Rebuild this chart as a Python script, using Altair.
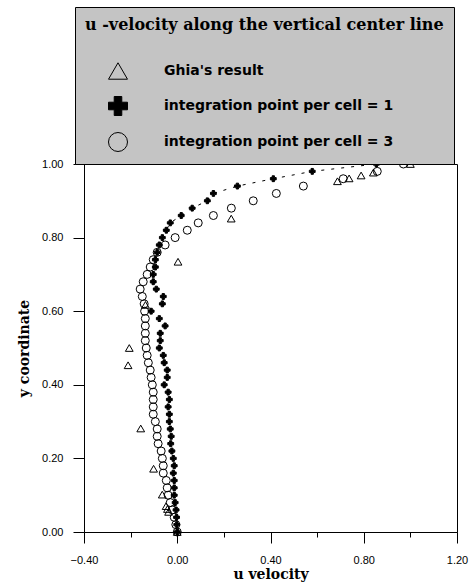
import altair as alt
import pandas as pd

# y positions of the computed points (grid along the vertical center line)
y_grid = [0.00, 0.02, 0.04, 0.06, 0.08, 0.10, 0.12, 0.14, 0.16, 0.18,
          0.20, 0.22, 0.24, 0.26, 0.28, 0.30, 0.32, 0.34, 0.36, 0.38,
          0.40, 0.42, 0.44, 0.46, 0.48, 0.50, 0.52, 0.54, 0.56, 0.58,
          0.60, 0.62, 0.64, 0.66, 0.68, 0.70, 0.72, 0.74, 0.76, 0.78,
          0.80, 0.82, 0.84, 0.86, 0.88, 0.90, 0.92, 0.94, 0.96, 0.98, 1.00]

# integration point per cell = 1 (plus markers)
u_ipc1 = [0.000, -0.002, -0.003, -0.005, -0.009, -0.013, -0.013, -0.013, -0.017, -0.013,
          -0.017, -0.023, -0.028, -0.026, -0.030, -0.034, -0.034, -0.039, -0.034, -0.039,
          -0.056, -0.043, -0.043, -0.056, -0.060, -0.077, -0.073, -0.073, -0.052, -0.077,
          -0.112, -0.064, -0.060, -0.090, -0.103, -0.103, -0.094, -0.094, -0.086, -0.077,
          -0.064, -0.047, -0.030, 0.017, 0.064, 0.129, 0.155, 0.258, 0.412, 0.579, 0.854]

# integration point per cell = 3 (circle markers)
u_ipc3 = [0.000, -0.006, -0.013, -0.021, -0.030, -0.039, -0.043, -0.047, -0.060, -0.060,
          -0.064, -0.069, -0.082, -0.086, -0.086, -0.094, -0.103, -0.103, -0.103, -0.103,
          -0.107, -0.112, -0.116, -0.124, -0.129, -0.133, -0.137, -0.137, -0.137, -0.137,
          -0.140, -0.142, -0.150, -0.159, -0.146, -0.129, -0.116, -0.103, -0.086, -0.052,
          -0.009, 0.043, 0.090, 0.155, 0.232, 0.326, 0.425, 0.541, 0.712, 0.858, 0.970]

# Ghia's result (triangles)
ghia_y = [1.0000, 0.9766, 0.9688, 0.9609, 0.9531, 0.8516, 0.7344, 0.6172, 0.5000,
          0.4531, 0.2813, 0.1719, 0.1016, 0.0703, 0.0625, 0.0547, 0.0000]
ghia_u = [1.0000, 0.84123, 0.78871, 0.73722, 0.68717, 0.23151, 0.00332, -0.13641, -0.20581,
          -0.21090, -0.15662, -0.10150, -0.06434, -0.04775, -0.04192, -0.03717, 0.0000]

series_names = ["Ghia's result", "integration point per cell = 1", "integration point per cell = 3"]

x_ticks = [-0.4, -0.2, 0.0, 0.2, 0.4, 0.6, 0.8, 1.0, 1.2]
y_ticks = [0.0, 0.1, 0.2, 0.3, 0.4, 0.5, 0.6, 0.7, 0.8, 0.9, 1.0]

df_ghia = pd.DataFrame({"u": ghia_u, "y": ghia_y, "series": series_names[0]})
df_ipc1 = pd.DataFrame({"u": u_ipc1, "y": y_grid, "series": series_names[1]})
df_ipc3 = pd.DataFrame({"u": u_ipc3, "y": y_grid, "series": series_names[2]})

legend_title = "u -velocity along the vertical center line"

x_enc = alt.X(
    "u:Q",
    scale=alt.Scale(domain=[-0.4, 1.2], nice=False, zero=False),
    axis=alt.Axis(
        values=x_ticks,
        title="u velocity",
        labelExpr="round(datum.value*10) % 4 == 0 ? format(datum.value, '.2f') : ''",
        tickSize={"condition": {"test": "round(datum.value*10) % 4 == 0", "value": 11}, "value": 5},
        labelPadding=11,
        titlePadding=2,
        labelFlush=False,
    ),
)
y_enc = alt.Y(
    "y:Q",
    scale=alt.Scale(domain=[0, 1], nice=False, zero=False),
    axis=alt.Axis(
        values=y_ticks,
        title="y coordinate",
        labelExpr="round(datum.value*10) % 2 == 0 ? format(datum.value, '.2f') : ''",
        tickSize={"condition": {"test": "round(datum.value*10) % 2 == 0", "value": 11}, "value": 6},
        labelPadding=10,
        titlePadding=10,
        labelFlush=False,
    ),
)

legend = alt.Legend(
    title=legend_title,
    orient="none",
    legendX=-9,
    legendY=-157,
    direction="vertical",
    fillColor="#c4c4c4",
    strokeColor="black",
    padding=10,
    titleFont="DejaVu Serif",
    titleFontSize=16,
    titleFontWeight="bold",
    titleColor="black",
    titlePadding=28,
    titleLimit=600,
    labelFont="DejaVu Sans",
    labelFontSize=14,
    labelFontWeight="bold",
    labelColor="black",
    labelLimit=400,
    labelOffset=36,
    symbolOffset=23,
    symbolSize=360,
    symbolStrokeColor="black",
    symbolStrokeWidth=1,
    rowPadding=12,
)

shape_enc = alt.Shape("series:N", scale=alt.Scale(domain=series_names,
                                                  range=["triangle-up", "cross", "circle"]),
                      legend=legend, title=legend_title)
fill_enc = alt.Fill("series:N", scale=alt.Scale(domain=series_names,
                                                range=["transparent", "black", "transparent"]),
                    legend=legend, title=legend_title)
stroke_enc = alt.Stroke("series:N", scale=alt.Scale(domain=series_names,
                                                    range=["black", "black", "black"]),
                        legend=legend, title=legend_title)


def layer_for(df, size):
    return alt.Chart(df).mark_point(strokeWidth=1, opacity=1, size=size).encode(
        x=x_enc, y=y_enc, shape=shape_enc, fill=fill_enc, stroke=stroke_enc
    )


line = alt.Chart(df_ipc1).mark_line(stroke="black", strokeWidth=1, strokeDash=[3, 7]).encode(
    x="u:Q", y="y:Q", order="y:Q"
).transform_filter(alt.datum.y >= 0.79)

chart = alt.layer(
    line,
    layer_for(df_ghia, 60),
    layer_for(df_ipc3, 64),
    layer_for(df_ipc1, 34),
).properties(
    width=373,
    height=368,
    autosize="none",
    padding={"left": 84, "top": 164, "right": 16, "bottom": 53},
).configure_view(
    stroke="black", strokeWidth=1
).configure_axis(
    grid=False,
    domainColor="black",
    tickColor="black",
    labelFont="Liberation Sans",
    labelFontSize=11,
    labelColor="black",
    titleFont="DejaVu Serif",
    titleFontSize=14,
    titleFontWeight="bold",
    titleColor="black",
)

chart.save("out.html", embed_options={"renderer": "svg", "actions": False})
